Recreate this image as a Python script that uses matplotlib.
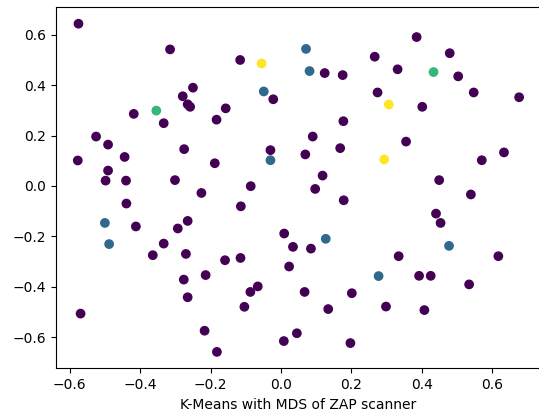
import matplotlib
matplotlib.use("Agg")
import matplotlib.pyplot as plt
import numpy as np

# MDS coordinates, with the k-means cluster of each point
xs = [-0.575, -0.315, -0.116, -0.055, -0.250, -0.049, -0.279, -0.022, -0.265, -0.258,
      -0.157, -0.354, -0.418, -0.183, -0.333, -0.525, -0.491, -0.275, -0.030, -0.444,
      -0.030, -0.577, -0.188, -0.491, -0.498, -0.440, -0.301, -0.086, -0.226, -0.439,
      -0.114, -0.500, -0.412, -0.265, -0.293, -0.488, -0.333, -0.364, -0.270, -0.214,
      -0.159, -0.115, -0.276, -0.265, -0.087, -0.066, -0.104, -0.569, -0.217, -0.182,
      0.385, 0.071, 0.479, 0.266, 0.081, 0.124, 0.175, 0.331, 0.433, 0.503,
      0.274, 0.547, 0.676, 0.306, 0.401, 0.177, 0.090, 0.355, 0.069, 0.168,
      0.293, 0.633, 0.570, 0.118, 0.097, 0.449, 0.178, 0.539, 0.440, 0.453,
      0.009, 0.127, 0.034, 0.085, 0.477, 0.334, 0.617, 0.023, 0.277, 0.392,
      0.425, 0.534, 0.067, 0.201, 0.134, 0.298, 0.407, 0.045, 0.008, 0.197]
ys = [0.644, 0.542, 0.500, 0.486, 0.390, 0.375, 0.356, 0.344, 0.324, 0.314,
      0.308, 0.299, 0.286, 0.263, 0.249, 0.196, 0.164, 0.146, 0.142, 0.115,
      0.102, 0.101, 0.090, 0.061, 0.021, 0.021, 0.023, -0.001, -0.028, -0.070,
      -0.081, -0.147, -0.161, -0.139, -0.169, -0.231, -0.229, -0.275, -0.270, -0.354,
      -0.295, -0.286, -0.372, -0.442, -0.421, -0.399, -0.480, -0.507, -0.575, -0.659,
      0.591, 0.544, 0.527, 0.513, 0.456, 0.448, 0.440, 0.463, 0.452, 0.435,
      0.371, 0.371, 0.352, 0.323, 0.314, 0.257, 0.196, 0.176, 0.125, 0.150,
      0.105, 0.133, 0.102, 0.041, -0.012, 0.023, -0.057, -0.034, -0.110, -0.147,
      -0.189, -0.210, -0.242, -0.249, -0.238, -0.279, -0.279, -0.320, -0.358, -0.357,
      -0.357, -0.391, -0.421, -0.426, -0.489, -0.479, -0.493, -0.585, -0.616, -0.624]
labels = [0, 0, 0, 3, 0, 1, 0, 0, 0, 0,
          0, 2, 0, 0, 0, 0, 0, 0, 0, 0,
          1, 0, 0, 0, 0, 0, 0, 0, 0, 0,
          0, 1, 0, 0, 0, 1, 0, 0, 0, 0,
          0, 0, 0, 0, 0, 0, 0, 0, 0, 0,
          0, 1, 0, 0, 1, 0, 0, 0, 2, 0,
          0, 0, 0, 3, 0, 0, 0, 0, 0, 0,
          3, 0, 0, 0, 0, 0, 0, 0, 0, 0,
          0, 1, 0, 0, 1, 0, 0, 0, 1, 0,
          0, 0, 0, 0, 0, 0, 0, 0, 0, 0]

fig = plt.figure(figsize=(5.39, 4.12), dpi=100)
# axes runs a little past the right edge, like the cropped original
ax = fig.add_axes([55.7 / 539, 43.7 / 412, 485.5 / 539, 361.0 / 412])
ax.scatter(np.array(xs), np.array(ys), c=labels, cmap='viridis')
ax.set_xlabel('K-Means with MDS of ZAP scanner')

fig.savefig('out.png', dpi=100)
